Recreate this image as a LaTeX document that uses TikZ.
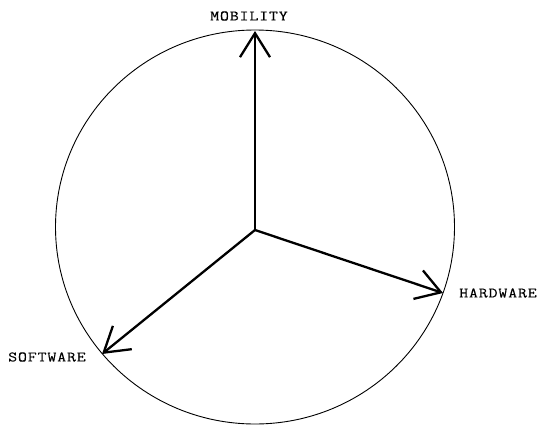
\documentclass[tikz,border=0pt]{standalone}
\usepackage{fontspec}
\newfontfamily\lblfont[FakeBold=0.3]{Latin Modern Mono}
\usetikzlibrary{arrows.meta}
\newcommand{\spc}{\kern0.7pt}
\newcommand{\lbltext}[1]{\scalebox{1.2}[1]{#1}}
\begin{document}
\begin{tikzpicture}[x=1pt,y=-1pt,
  axis/.style={line width=2.3pt,-{Straight Barb[length=24pt,width=30pt,line width=2.3pt]}},
  lbl/.style={font=\fontsize{14.5}{17}\lblfont, inner sep=0pt}]
\useasboundingbox (0,0) rectangle (552,426);
\draw[line width=0.9pt] (255,227) ellipse [x radius=199.5, y radius=197];
\coordinate (o) at (255,230);
\coordinate (m) at (255,31);
\coordinate (h) at (443,293);
\coordinate (s) at (102,354);
\draw[axis] (o) -- (m);
\draw[axis] (o) -- (h);
\draw[axis] (o) -- (s);
\node[lbl] (ml) at (249,16) {\lbltext{M\spc O\spc B\spc I\spc L\spc I\spc T\spc Y}};
\node[lbl] (hl) at (498,293) {\lbltext{H\spc A\spc R\spc D\spc W\spc A\spc R\spc E}};
\node[lbl] (sl) at (47,357) {\lbltext{S\spc O\spc F\spc T\spc W\spc A\spc R\spc E}};
\end{tikzpicture}
\end{document}
